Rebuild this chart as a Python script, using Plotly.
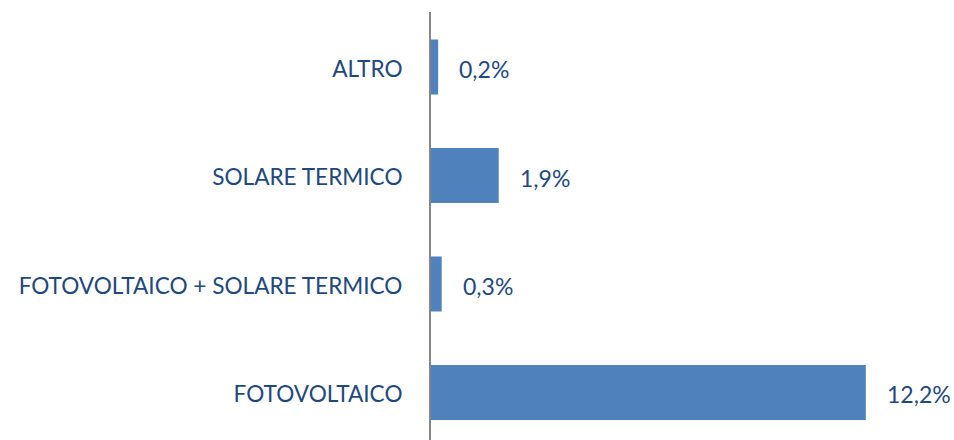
import plotly.graph_objects as go

categories = ["FOTOVOLTAICO", "FOTOVOLTAICO + SOLARE TERMICO", "SOLARE TERMICO", "ALTRO"]
values = [12.2, 0.3, 1.9, 0.2]
labels = ["12,2%", "0,3%", "1,9%", "0,2%"]

text_color = "#1F497D"
font_family = "Lato, 'Open Sans', sans-serif"

fig = go.Figure()
fig.add_trace(go.Bar(
    y=categories, x=values, orientation="h",
    marker=dict(color="#4F81BD", line=dict(width=0)),
    width=0.507, hoverinfo="skip",
))

for c, v, t in zip(categories, values, labels):
    fig.add_annotation(x=v, y=c, text=t, showarrow=False, xanchor="left",
                       xshift=19, yshift=-2,
                       font=dict(family=font_family, size=23, color=text_color))

fig.update_layout(
    width=954, height=440,
    margin=dict(l=431, r=24, t=12, b=0),
    paper_bgcolor="white", plot_bgcolor="white",
    showlegend=False,
    xaxis=dict(range=[0, 14], visible=False, showgrid=False, zeroline=False,
               automargin=False),
    yaxis=dict(range=[-0.438, 3.507], showgrid=False, zeroline=False,
               showline=True, linecolor="#868686", linewidth=2,
               ticks="", ticklabelstandoff=22, ticklabelshift=2, automargin=False,
               tickfont=dict(family=font_family, size=22.6, color=text_color)),
)

fig.write_html("out.html", config={"displayModeBar": False},
               post_script="document.body.style.margin='0';document.body.style.padding='0';")
